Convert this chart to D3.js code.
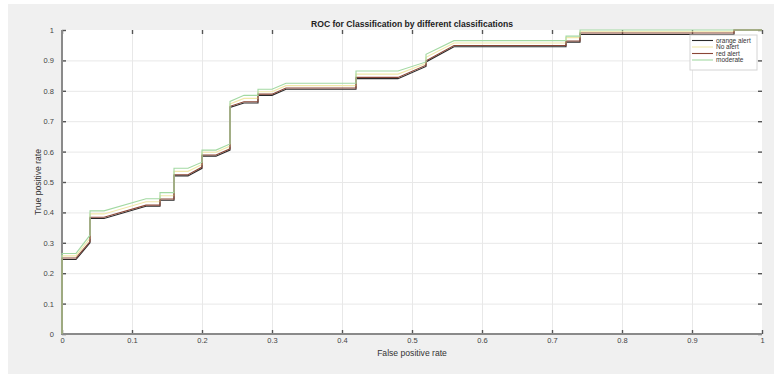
<!DOCTYPE html>
<html>
<head>
<meta charset="utf-8">
<script src="https://cdn.jsdelivr.net/npm/d3@7"></script>
<style>
  body { margin: 0; background: #fff; }
  text { font-family: "Liberation Sans", Arial, sans-serif; }
</style>
</head>
<body>
<svg id="chart" width="774" height="375"></svg>
<script>
// ROC points (false positive rate / true positive rate)
const fpr = [0, 0, 0.02, 0.04, 0.04, 0.06, 0.12, 0.14, 0.14, 0.16, 0.16, 0.18, 0.20, 0.20, 0.22, 0.24, 0.24,
             0.26, 0.28, 0.28, 0.30, 0.32, 0.42, 0.42, 0.48, 0.52, 0.52, 0.56, 0.72, 0.72, 0.74, 0.74, 0.96, 0.96, 1];

const tprOrange = [0, 0.245, 0.245, 0.30, 0.38, 0.38, 0.42, 0.42, 0.44, 0.44, 0.52, 0.52, 0.545, 0.585, 0.585, 0.605, 0.745,
                   0.76, 0.76, 0.785, 0.785, 0.805, 0.805, 0.84, 0.84, 0.88, 0.895, 0.945, 0.945, 0.96, 0.96, 0.985, 0.985, 1, 1];
const tprNo = [0, 0.257, 0.257, 0.315, 0.395, 0.395, 0.435, 0.435, 0.455, 0.455, 0.535, 0.535, 0.558, 0.598, 0.598, 0.618, 0.757,
               0.775, 0.775, 0.797, 0.797, 0.817, 0.817, 0.855, 0.855, 0.89, 0.91, 0.957, 0.957, 0.975, 0.975, 0.994, 0.994, 1, 1];
const tprRed = [0, 0.25, 0.25, 0.304, 0.384, 0.384, 0.424, 0.424, 0.444, 0.444, 0.524, 0.524, 0.549, 0.589, 0.589, 0.609, 0.749,
                0.764, 0.764, 0.789, 0.789, 0.809, 0.809, 0.844, 0.844, 0.884, 0.899, 0.949, 0.949, 0.964, 0.964, 0.99, 0.99, 1, 1];
const tprModerate = [0, 0.265, 0.265, 0.325, 0.405, 0.405, 0.445, 0.445, 0.465, 0.465, 0.545, 0.545, 0.565, 0.605, 0.605, 0.625, 0.765,
                     0.785, 0.785, 0.805, 0.805, 0.825, 0.825, 0.865, 0.865, 0.895, 0.92, 0.965, 0.965, 0.98, 0.98, 1, 1, 1, 1];

const seriesNames = ["orange alert", "No alert", "red alert", "moderate"];
const seriesColors = ["#2a2a2a", "#f1e7a8", "#8a4636", "#a3d9a3"];
const seriesTpr = [tprOrange, tprNo, tprRed, tprModerate];

const xTicks = [0, 0.1, 0.2, 0.3, 0.4, 0.5, 0.6, 0.7, 0.8, 0.9, 1];
const yTicks = [0, 0.1, 0.2, 0.3, 0.4, 0.5, 0.6, 0.7, 0.8, 0.9, 1];

const svg = d3.select("#chart");
const pLeft = 62, pRight = 762, pTop = 30, pBottom = 334;

const x = d3.scaleLinear().domain([0, 1]).range([pLeft, pRight]);
const y = d3.scaleLinear().domain([0, 1]).range([pBottom, pTop]);

// figure background
svg.append("rect").attr("x", 8).attr("y", 4).attr("width", 766).attr("height", 370).attr("fill", "#f0f0f0");
svg.append("rect").attr("x", pLeft).attr("y", pTop).attr("width", pRight - pLeft).attr("height", pBottom - pTop).attr("fill", "#fff");

// grid
const grid = svg.append("g").attr("stroke", "#e8e8e8").attr("stroke-width", 1);
grid.selectAll("line.gx").data(xTicks.slice(1, -1)).join("line")
    .attr("x1", d => x(d) + 0.5).attr("x2", d => x(d) + 0.5).attr("y1", pTop).attr("y2", pBottom);
grid.selectAll("line.gy").data(yTicks.slice(1, -1)).join("line")
    .attr("y1", d => y(d) + 0.5).attr("y2", d => y(d) + 0.5).attr("x1", pLeft).attr("x2", pRight);

// axes, ticks inside like matlab
const fmt = d => d === 0 || d === 1 ? String(d) : d.toFixed(1);
const ax = g => g.call(s => s.select(".domain").remove())
    .call(s => s.selectAll(".tick line").attr("stroke", "#555").attr("stroke-width", 1.4))
    .call(s => s.selectAll(".tick text").attr("fill", "#444").style("font-size", "7.5px"));

svg.append("g").attr("transform", `translate(0,${pBottom})`)
    .call(d3.axisBottom(x).tickValues(xTicks).tickFormat(fmt).tickSizeInner(-4).tickPadding(4)).call(ax);
svg.append("g").attr("transform", `translate(0,${pTop})`)
    .call(d3.axisTop(x).tickValues(xTicks).tickFormat("").tickSizeInner(-4)).call(ax);
svg.append("g").attr("transform", `translate(${pLeft},0)`)
    .call(d3.axisLeft(y).tickValues(yTicks).tickFormat(fmt).tickSizeInner(-4).tickPadding(8)).call(ax);
svg.append("g").attr("transform", `translate(${pRight},0)`)
    .call(d3.axisRight(y).tickValues(yTicks).tickFormat("").tickSizeInner(-4)).call(ax);

svg.append("line").attr("x1", pLeft).attr("x2", pLeft).attr("y1", pTop).attr("y2", pBottom + 1)
    .attr("stroke", "#8a8a8a").attr("stroke-width", 2);
svg.append("line").attr("x1", pLeft - 1).attr("x2", pRight).attr("y1", pBottom).attr("y2", pBottom)
    .attr("stroke", "#8a8a8a").attr("stroke-width", 2);

// curves
const line = d3.line().x(d => x(d[0])).y(d => y(d[1]));
seriesTpr.forEach((tpr, i) => {
    svg.append("path")
        .datum(fpr.map((f, j) => [f, tpr[j]]))
        .attr("fill", "none")
        .attr("stroke", seriesColors[i])
        .attr("stroke-width", 1.1)
        .attr("d", line);
});

// legend
const lg = svg.append("g").attr("transform", "translate(690,35)");
lg.append("rect").attr("width", 67).attr("height", 35).attr("fill", "#fff").attr("stroke", "#d4d4d4");
seriesNames.forEach((name, i) => {
    const yy = 5.5 + i * 6.5;
    lg.append("line").attr("x1", 2).attr("x2", 23).attr("y1", yy).attr("y2", yy)
        .attr("stroke", seriesColors[i]).attr("stroke-width", 1.1);
    lg.append("text").attr("x", 26).attr("y", yy + 2).text(name)
        .attr("fill", "#333").style("font-size", "6.5px");
});

// labels
svg.append("text").attr("x", 412).attr("y", 27).attr("text-anchor", "middle")
    .style("font-size", "8.6px").style("font-weight", "bold").attr("fill", "#222")
    .text("ROC for Classification by different classifications");
svg.append("text").attr("x", 412).attr("y", 356).attr("text-anchor", "middle")
    .style("font-size", "8.6px").attr("fill", "#333").text("False positive rate");
svg.append("text").attr("transform", "translate(41,182) rotate(-90)").attr("text-anchor", "middle")
    .style("font-size", "8.6px").attr("fill", "#333").text("True positive rate");
</script>
</body>
</html>
